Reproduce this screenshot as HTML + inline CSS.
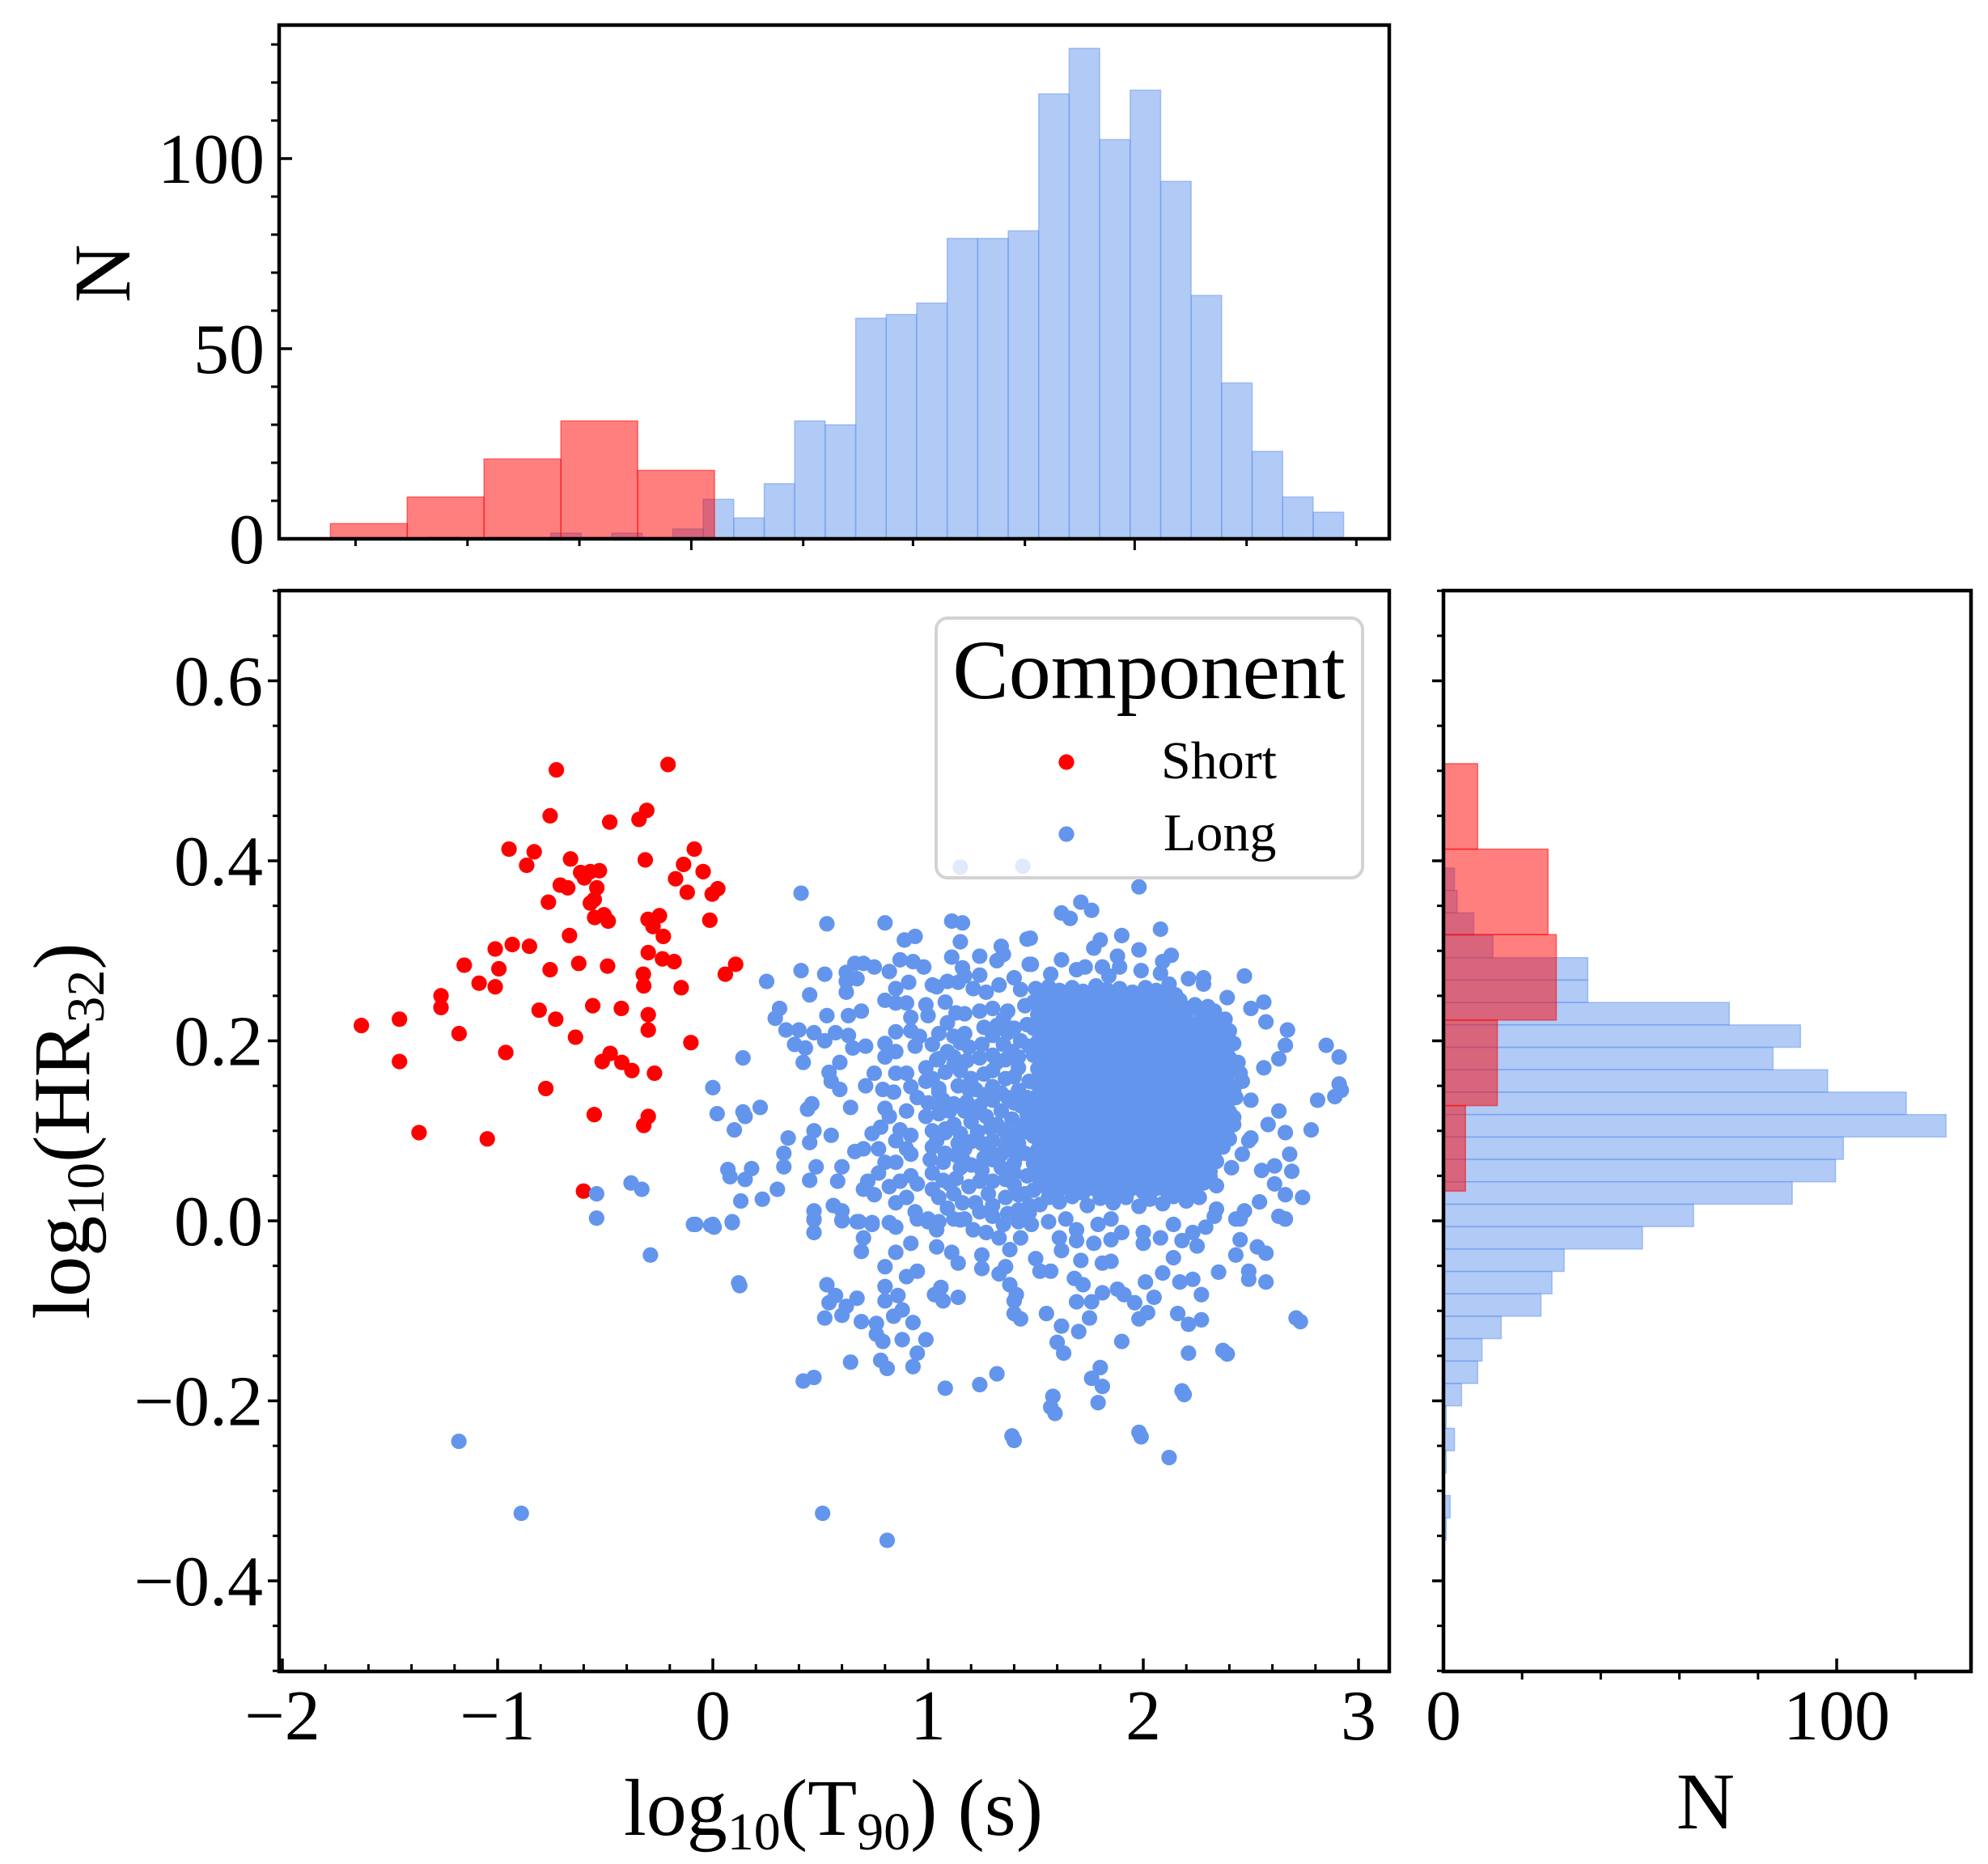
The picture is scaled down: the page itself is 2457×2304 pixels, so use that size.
<!DOCTYPE html>
<html><head><meta charset="utf-8"><style>
html,body{margin:0;padding:0;background:#fff;}
svg{display:block;}
text{font-family:"Liberation Serif",serif;fill:#000;}
</style></head><body>
<svg id="fig" xmlns="http://www.w3.org/2000/svg" width="2457" height="2304" viewBox="0 0 2457 2304"></svg>
<script>
// ---------- data ----------
const redPts = [[-0.727,0.501],[-0.208,0.507],[-0.756,0.450],[-0.479,0.443],[-0.307,0.456],[-0.343,0.446],[-0.947,0.413],[-0.830,0.410],[-0.865,0.395],[-0.661,0.402],[-0.314,0.401],[-0.086,0.413],[-0.136,0.396],[-0.045,0.388],[-0.173,0.380],[-0.119,0.365],[-0.003,0.363],[0.023,0.369],[-0.614,0.387],[-0.569,0.388],[-0.527,0.389],[-0.597,0.381],[-0.709,0.373],[-0.674,0.370],[-0.539,0.370],[-0.551,0.357],[-0.569,0.353],[-0.764,0.354],[-0.549,0.337],[-0.506,0.340],[-0.486,0.333],[-0.301,0.335],[-0.248,0.339],[-0.278,0.327],[-0.230,0.316],[-0.014,0.334],[-0.666,0.317],[-1.011,0.302],[-0.932,0.307],[-0.852,0.305],[-0.300,0.298],[-0.234,0.291],[-0.180,0.288],[0.106,0.285],[0.058,0.274],[-1.155,0.284],[-0.994,0.280],[-0.756,0.279],[-0.623,0.286],[-0.489,0.283],[-0.323,0.274],[-0.321,0.261],[-0.147,0.259],[-1.086,0.264],[-1.011,0.260],[-1.263,0.250],[-1.263,0.237],[-1.633,0.217],[-1.456,0.224],[-1.179,0.208],[-0.807,0.234],[-0.730,0.224],[-0.558,0.239],[-0.425,0.236],[-0.300,0.229],[-0.300,0.212],[-0.638,0.204],[-0.102,0.198],[-1.456,0.177],[-0.962,0.187],[-0.514,0.177],[-0.477,0.186],[-0.423,0.176],[-0.376,0.167],[-0.271,0.164],[-0.776,0.147],[-0.551,0.118],[-0.300,0.116],[-0.321,0.106],[-1.365,0.098],[-1.048,0.091],[-0.601,0.033]];

const bluePts = [[1.15,0.393],[1.44,0.394],
[-1.18,-0.245],[-0.89,-0.325],[-0.54,0.030],[-0.54,0.003],[-0.38,0.042],[-0.33,0.035],[-0.29,-0.038],[-0.09,-0.004],[0.0,-0.004],[0.12,-0.069],[0.51,-0.325],[0.81,-0.355],[1.98,-0.235],[2.12,-0.263],[1.39,-0.239],[2.71,-0.108],[2.37,-0.144],[2.18,-0.189],
[0.41,0.364],[0.53,0.330],[0.80,0.331],[1.11,0.333],[1.16,0.331],[0.89,0.312],[0.94,0.316],[1.15,0.310],[1.46,0.313],[1.24,0.294],[1.34,0.305],[1.35,0.296],[1.32,0.289],[1.11,0.293],[0.41,0.278],[0.52,0.274],[0.25,0.266],[0.66,0.286],[0.70,0.286],[0.62,0.276],[0.67,0.269],[0.62,0.266],[0.62,0.254],[0.75,0.282],[0.82,0.277],[0.87,0.290],[0.93,0.288],[0.98,0.282],[0.91,0.265],[0.85,0.258],[0.85,0.242],[0.80,0.245],[0.90,0.242],[0.99,0.240],[1.08,0.243],[1.16,0.281],[1.17,0.272],[1.14,0.265],[1.09,0.266],[1.04,0.260],[1.24,0.273],[1.27,0.254],[1.40,0.270],[1.47,0.285],[0.45,0.251],[0.53,0.228],[0.63,0.228],[0.69,0.233],[0.31,0.236],[0.29,0.225],[0.34,0.212],[0.40,0.212],[0.47,0.209],[0.52,0.200],[0.57,0.209],[0.63,0.206],[0.65,0.192],[0.38,0.196],[0.43,0.192],[0.42,0.176],[0.14,0.181],[0.59,0.176],[0.54,0.165],[0.55,0.155],[0.59,0.146],[0.00,0.148],[0.02,0.119],[0.14,0.121],[0.22,0.126],[0.15,0.116],[0.10,0.101],[0.46,0.130],[0.44,0.124],[0.64,0.126],[0.35,0.092],[0.33,0.075],[0.33,0.060],[0.47,0.100],[0.45,0.087],[0.55,0.095],[0.07,0.057],[0.08,0.049],[0.18,0.058],[0.15,0.046],[0.48,0.060],[0.45,0.045],[0.30,0.035],[0.23,0.024],[0.13,0.022],[0.09,-0.001],[-0.01,-0.005],[-0.08,-0.004],[0.47,0.011],[0.47,0.002],[0.56,0.017],[0.60,0.011],[0.60,0.001],[0.67,-0.001],[0.74,-0.002],[0.66,0.077],[0.70,0.080],[0.60,0.060],[0.58,0.044],
[0.71,0.194],[0.80,0.197],[0.85,0.210],[0.92,0.226],[0.92,0.211],[0.96,0.205],[0.94,0.194],[0.80,0.182],[0.85,0.188],[0.75,0.164],[0.71,0.150],[0.79,0.146],[0.85,0.164],[0.90,0.164],[0.84,0.143],[1.05,0.208],[1.09,0.220],[1.12,0.205],[1.17,0.208],[1.19,0.193],[1.25,0.196],[1.17,0.230],[1.24,0.233],[1.30,0.236],[1.37,0.233],[1.45,0.239],[1.30,0.206],[1.37,0.209],[1.46,0.218],[1.47,0.194],[1.39,0.188],[0.99,0.170],[1.04,0.179],[1.09,0.188],[1.12,0.173],[0.92,0.149],[0.99,0.155],[1.02,0.158],[1.05,0.143],[1.07,0.134],[1.00,0.131],[0.95,0.137],[1.20,0.158],[1.22,0.146],[1.19,0.146],[1.30,0.167],[1.32,0.176],[1.30,0.149],[1.36,0.158],[1.42,0.170],[1.47,0.155],[1.46,0.137],[1.37,0.137],[1.30,0.134],[0.80,0.125],[0.82,0.116],[0.90,0.122],[0.99,0.116],[1.05,0.119],[1.10,0.122],[1.17,0.122],[1.12,0.107],[1.20,0.110],[1.27,0.116],[1.32,0.107],[1.39,0.113],[1.46,0.119],[0.74,0.097],[0.78,0.104],[0.87,0.101],[0.92,0.095],[0.85,0.089],[0.90,0.080],[0.92,0.074],[0.77,0.080],[1.04,0.089],[1.08,0.098],[1.14,0.086],[1.17,0.080],[1.25,0.086],[1.30,0.089],[1.37,0.092],[1.42,0.086],[1.47,0.098],[0.80,0.065],[0.85,0.065],[0.77,0.053],[0.72,0.044],[0.70,0.035],[0.75,0.029],[0.82,0.038],[0.87,0.044],[0.92,0.050],[0.95,0.041],[0.90,0.026],[0.85,0.020],[1.01,0.068],[1.07,0.065],[1.02,0.053],[1.02,0.035],[1.10,0.041],[1.15,0.059],[1.20,0.062],[1.25,0.056],[1.30,0.068],[1.34,0.059],[1.40,0.053],[1.46,0.050],[1.19,0.038],[1.24,0.044],[1.16,0.020],[1.22,0.020],[1.30,0.017],[1.36,0.026],[1.42,0.029],[1.47,0.017],[0.82,-0.002],[0.94,0.010],[0.95,0.002],[1.00,0.002],[1.05,-0.001],[1.09,0.014],[1.12,0.002],[1.17,0.002],[1.30,0.005],[1.37,0.008],[1.44,0.005],
[1.26,0.215],[1.32,0.217],[1.40,0.214],[1.05,0.180],[1.12,0.182],[1.18,0.178],[1.24,0.181],[1.30,0.184],[1.36,0.179],[1.42,0.182],[1.12,0.130],[1.18,0.132],[1.24,0.128],[1.40,0.131],[1.02,0.100],[1.08,0.102],[1.23,0.099],[1.35,0.101],[1.41,0.098],[1.08,0.075],[1.13,0.073],[1.29,0.076],[1.34,0.074],[1.41,0.072],[1.07,0.045],[1.13,0.047],[1.30,0.044],[1.36,0.046],[1.24,0.010],[1.42,0.012],[1.47,0.009],
[1.02,0.262],[1.21,0.258],[1.33,0.262],[1.43,0.257],[1.00,0.228],[1.13,0.231],[1.35,0.224],[1.02,0.196],[1.15,0.198],[1.35,0.196],[1.43,0.200],[1.08,0.165],[1.15,0.167],[1.26,0.163],[1.40,0.160],[1.05,0.147],[1.14,0.150],[1.26,0.140],[1.34,0.142],[1.42,0.145],[1.05,0.128],[1.22,0.120],[1.34,0.122],[1.43,0.128],[1.15,0.097],[1.29,0.103],[1.45,0.108],[1.02,0.082],[1.20,0.088],[1.36,0.082],[1.45,0.075],[1.16,0.069],[1.26,0.070],[1.40,0.064],[1.05,0.026],[1.12,0.030],[1.28,0.030],[1.40,0.040],[1.45,0.030],
[1.98,0.371],[1.62,0.342],[1.66,0.336],[1.71,0.354],[1.76,0.345],[2.08,0.324],[1.475,0.314],[1.48,0.285],[1.80,0.312],[1.77,0.303],[1.90,0.317],[1.98,0.301],[1.62,0.290],[1.57,0.274],[1.69,0.279],[1.73,0.282],[1.88,0.294],[1.89,0.282],[1.81,0.282],[1.84,0.272],[1.99,0.278],[2.13,0.295],[2.09,0.288],[2.08,0.275],[2.12,0.263],[2.21,0.269],[2.28,0.270],[2.28,0.263],[2.47,0.272],[2.39,0.248],[2.33,0.233],[2.38,0.224],[2.27,0.230],[2.17,0.236],[2.56,0.243],[2.50,0.236],[2.57,0.221],[2.67,0.212],[2.66,0.195],[2.63,0.180],[2.56,0.170],[2.85,0.195],[2.91,0.182],[2.91,0.152],[2.92,0.145],[2.89,0.138],[2.81,0.134],[2.78,0.101],[2.66,0.098],[2.68,0.074],[2.69,0.055],[2.63,0.122],[2.58,0.107],[2.50,0.092],[2.50,0.134],[2.44,0.176],[2.45,0.164],[2.46,0.155],[2.55,0.056],[2.61,0.061],[2.61,0.041],[2.66,0.029],[2.74,0.026],[2.54,0.021],[2.47,0.011],[2.43,0.002],[2.63,0.005],[2.66,0.002],[2.34,0.039],[2.34,0.013],[2.24,0.038],[2.41,0.059],[2.46,0.074],[2.49,0.089],
[0.09,-0.002],[0.006,-0.007],[0.125,-0.072],[0.47,0.001],[0.47,-0.013],[0.60,0.0],[0.68,-0.001],[0.74,-0.004],[0.70,-0.019],[0.69,-0.034],[0.85,-0.007],[0.85,-0.035],[0.92,-0.025],[1.0,-0.001],[1.04,-0.010],[0.80,-0.051],[1.04,-0.029],[1.11,-0.035],[1.14,-0.047],[0.90,-0.062],[0.95,-0.056],[0.53,-0.071],[0.57,-0.083],[0.54,-0.091],[0.67,-0.086],[0.62,-0.095],[0.52,-0.108],[0.60,-0.105],[0.80,-0.073],[0.80,-0.089],[0.86,-0.083],[0.88,-0.099],[0.84,-0.106],[0.93,-0.113],[0.69,-0.112],[0.76,-0.114],[0.76,-0.126],[0.79,-0.134],[0.88,-0.132],[0.99,-0.132],[0.95,-0.147],[0.93,-0.162],[0.78,-0.155],[0.81,-0.164],[0.64,-0.157],[0.42,-0.178],[0.47,-0.174],[1.03,-0.082],[1.06,-0.074],[1.14,-0.085],[1.07,-0.089],[1.25,-0.038],[1.25,-0.053],[1.33,-0.059],[1.36,-0.051],[1.38,-0.071],[1.41,-0.082],[1.40,-0.089],[1.40,-0.103],[1.43,-0.109],[1.38,-0.032],[1.43,-0.019],[1.50,-0.042],[1.52,-0.056],[1.57,-0.056],[1.62,-0.033],[1.61,-0.019],[1.55,-0.103],[1.62,-0.117],[1.60,-0.135],[1.63,-0.147],[1.70,-0.123],[1.75,-0.108],[1.69,-0.090],[1.76,-0.090],[1.68,-0.064],[1.72,-0.071],[1.71,-0.044],[1.81,-0.047],[1.85,-0.045],[1.81,-0.080],[1.88,-0.076],[1.91,-0.082],[1.96,-0.091],[2.01,-0.068],[2.05,-0.085],[2.02,-0.102],[1.98,-0.109],[1.90,-0.134],[1.80,-0.163],[1.76,-0.175],[1.81,-0.184],[1.79,-0.202],[1.58,-0.195],[1.57,-0.207],[1.59,-0.214],[1.32,-0.170],[1.24,-0.182],[1.08,-0.186],[1.40,-0.244],[1.99,-0.240],[2.09,-0.058],[2.14,-0.041],[2.17,-0.068],[2.23,-0.065],[2.27,-0.082],[2.16,-0.103],[2.21,-0.115],[2.27,-0.110],[2.21,-0.147],[2.39,-0.148],[2.19,-0.193],[2.73,-0.112],[2.35,-0.057],[2.43,-0.038],[2.45,-0.021],[2.53,-0.029],[2.57,-0.036],[2.49,-0.056],[2.49,-0.065],[2.57,-0.068],[2.66,0.002],[2.45,0.002],
[1.15,0.001],[1.21,-0.010],[1.27,-0.013],[1.33,-0.019],[1.35,-0.004],[1.42,-0.001],[1.48,-0.004],[1.56,-0.001],[1.64,0.002],[1.69,-0.010],[1.69,-0.022],[1.77,-0.025],[1.79,-0.004],[1.85,0.002],[1.85,-0.021],[1.90,-0.013],[2.00,-0.013],[2.00,-0.025],[2.08,-0.019],[2.14,-0.004],[2.18,-0.022],[2.23,-0.013],[2.25,-0.028],[2.29,-0.007],[2.33,0.005],
[1.50,0.258],[1.56,0.260],[1.61,0.256],[1.67,0.259],[1.72,0.255],[1.78,0.261],[1.83,0.257],[1.89,0.258],[1.95,0.254],[2.01,0.259],[2.06,0.256],[2.12,0.252],
[1.49,0.243],[1.54,0.246],[1.60,0.242],[1.66,0.245],[1.71,0.241],[1.77,0.244],[1.82,0.247],[1.88,0.242],[1.94,0.245],[1.99,0.240],[2.05,0.244],[2.11,0.241],[2.17,0.245],[2.24,0.240],
[1.51,0.229],[1.57,0.226],[1.62,0.231],[1.68,0.228],[1.74,0.225],[1.79,0.230],[1.85,0.227],[1.91,0.232],[1.96,0.228],[2.02,0.226],[2.08,0.230],[2.14,0.227],[2.20,0.231],[2.27,0.226],[2.33,0.229],
[1.49,0.214],[1.55,0.217],[1.60,0.212],[1.66,0.215],[1.71,0.211],[1.77,0.216],[1.83,0.213],[1.88,0.210],[1.94,0.215],[2.00,0.212],[2.05,0.216],[2.11,0.213],[2.17,0.210],[2.22,0.215],[2.28,0.212],[2.35,0.216],[2.40,0.211],
[1.51,0.199],[1.57,0.196],[1.63,0.201],[1.68,0.198],[1.74,0.195],[1.80,0.200],[1.85,0.197],[1.91,0.202],[1.97,0.198],[2.02,0.195],[2.08,0.200],[2.14,0.197],[2.19,0.201],[2.25,0.196],[2.31,0.199],[2.37,0.202],[2.42,0.197],
[1.49,0.184],[1.55,0.187],[1.60,0.182],[1.66,0.185],[1.72,0.181],[1.77,0.186],[1.83,0.183],[1.89,0.180],[1.94,0.185],[2.00,0.182],[2.06,0.186],[2.11,0.183],[2.17,0.180],[2.23,0.185],[2.28,0.182],[2.34,0.186],[2.40,0.181],
[1.51,0.169],[1.57,0.166],[1.63,0.171],[1.68,0.168],[1.74,0.165],[1.80,0.170],[1.85,0.167],[1.91,0.172],[1.97,0.168],[2.02,0.165],[2.08,0.170],[2.14,0.167],[2.19,0.171],[2.25,0.166],[2.31,0.169],[2.37,0.172],[2.43,0.167],
[1.49,0.154],[1.55,0.157],[1.60,0.152],[1.66,0.155],[1.72,0.151],[1.77,0.156],[1.83,0.153],[1.89,0.150],[1.94,0.155],[2.00,0.152],[2.06,0.156],[2.11,0.153],[2.17,0.150],[2.23,0.155],[2.28,0.152],[2.34,0.156],[2.40,0.151],
[1.51,0.139],[1.57,0.136],[1.63,0.141],[1.68,0.138],[1.74,0.135],[1.80,0.140],[1.85,0.137],[1.91,0.142],[1.97,0.138],[2.02,0.135],[2.08,0.140],[2.14,0.137],[2.19,0.141],[2.25,0.136],[2.31,0.139],[2.37,0.142],[2.43,0.137],
[1.49,0.124],[1.55,0.127],[1.60,0.122],[1.66,0.125],[1.72,0.121],[1.77,0.126],[1.83,0.123],[1.89,0.120],[1.94,0.125],[2.00,0.122],[2.06,0.126],[2.11,0.123],[2.17,0.120],[2.23,0.125],[2.28,0.122],[2.34,0.126],[2.40,0.121],
[1.51,0.109],[1.57,0.106],[1.63,0.111],[1.68,0.108],[1.74,0.105],[1.80,0.110],[1.85,0.107],[1.91,0.112],[1.97,0.108],[2.02,0.105],[2.08,0.110],[2.14,0.107],[2.19,0.111],[2.25,0.106],[2.31,0.109],[2.37,0.112],[2.42,0.107],
[1.49,0.094],[1.55,0.097],[1.60,0.092],[1.66,0.095],[1.72,0.091],[1.77,0.096],[1.83,0.093],[1.89,0.090],[1.94,0.095],[2.00,0.092],[2.06,0.096],[2.11,0.093],[2.17,0.090],[2.23,0.095],[2.28,0.092],[2.34,0.096],[2.40,0.091],
[1.51,0.079],[1.57,0.076],[1.63,0.081],[1.68,0.078],[1.74,0.075],[1.80,0.080],[1.85,0.077],[1.91,0.082],[1.97,0.078],[2.02,0.075],[2.08,0.080],[2.14,0.077],[2.19,0.081],[2.25,0.076],[2.31,0.079],[2.37,0.082],
[1.49,0.064],[1.55,0.067],[1.60,0.062],[1.66,0.065],[1.72,0.061],[1.77,0.066],[1.83,0.063],[1.89,0.060],[1.94,0.065],[2.00,0.062],[2.06,0.066],[2.11,0.063],[2.17,0.060],[2.23,0.065],[2.28,0.062],[2.34,0.066],
[1.51,0.049],[1.57,0.046],[1.63,0.051],[1.68,0.048],[1.74,0.045],[1.80,0.050],[1.85,0.047],[1.91,0.052],[1.97,0.048],[2.02,0.045],[2.08,0.050],[2.14,0.047],[2.19,0.051],[2.25,0.046],[2.31,0.049],
[1.49,0.034],[1.55,0.037],[1.60,0.032],[1.66,0.035],[1.72,0.031],[1.77,0.036],[1.83,0.033],[1.89,0.030],[1.94,0.035],[2.00,0.032],[2.06,0.036],[2.11,0.033],[2.17,0.030],[2.23,0.035],
[1.52,0.018],[1.61,0.021],[1.74,0.017],[1.86,0.020],[1.98,0.016],[2.09,0.019],[2.20,0.022],
[1.53,0.251],[1.59,0.252],[1.64,0.250],[1.70,0.249],[1.75,0.252],[1.81,0.250],[1.86,0.249],[1.92,0.251],[1.98,0.249],[2.03,0.250],[2.09,0.248],[2.15,0.251],
[1.52,0.236],[1.57,0.235],[1.63,0.237],[1.69,0.236],[1.74,0.234],[1.80,0.237],[1.86,0.235],[1.91,0.236],[1.97,0.234],[2.03,0.237],[2.08,0.235],[2.14,0.236],[2.21,0.236],[2.30,0.238],
[1.54,0.221],[1.59,0.222],[1.65,0.220],[1.71,0.221],[1.76,0.219],[1.82,0.222],[1.88,0.220],[1.93,0.221],[1.99,0.219],[2.05,0.222],[2.10,0.220],[2.16,0.221],[2.22,0.219],[2.27,0.220],[2.32,0.221],
[1.52,0.206],[1.57,0.207],[1.63,0.205],[1.69,0.206],[1.74,0.204],[1.80,0.207],[1.86,0.205],[1.91,0.206],[1.97,0.204],[2.03,0.207],[2.08,0.205],[2.14,0.206],[2.20,0.204],[2.25,0.207],[2.31,0.205],[2.37,0.206],
[1.54,0.191],[1.60,0.192],[1.65,0.190],[1.71,0.191],[1.77,0.189],[1.82,0.192],[1.88,0.190],[1.94,0.191],[1.99,0.189],[2.05,0.192],[2.11,0.190],[2.16,0.191],[2.22,0.189],[2.28,0.192],[2.33,0.190],[2.39,0.191],
[1.52,0.176],[1.57,0.177],[1.63,0.175],[1.69,0.176],[1.74,0.174],[1.80,0.177],[1.86,0.175],[1.91,0.176],[1.97,0.174],[2.03,0.177],[2.08,0.175],[2.14,0.176],[2.20,0.174],[2.25,0.177],[2.31,0.175],[2.37,0.176],[2.42,0.175],
[1.54,0.161],[1.60,0.162],[1.65,0.160],[1.71,0.161],[1.77,0.159],[1.82,0.162],[1.88,0.160],[1.94,0.161],[1.99,0.159],[2.05,0.162],[2.11,0.160],[2.16,0.161],[2.22,0.159],[2.28,0.162],[2.33,0.160],[2.39,0.161],
[1.52,0.146],[1.57,0.147],[1.63,0.145],[1.69,0.146],[1.74,0.144],[1.80,0.147],[1.86,0.145],[1.91,0.146],[1.97,0.144],[2.03,0.147],[2.08,0.145],[2.14,0.146],[2.20,0.144],[2.25,0.147],[2.31,0.145],[2.37,0.146],[2.42,0.145],
[1.54,0.131],[1.60,0.132],[1.65,0.130],[1.71,0.131],[1.77,0.129],[1.82,0.132],[1.88,0.130],[1.94,0.131],[1.99,0.129],[2.05,0.132],[2.11,0.130],[2.16,0.131],[2.22,0.129],[2.28,0.132],[2.33,0.130],[2.39,0.131],
[1.52,0.116],[1.57,0.117],[1.63,0.115],[1.69,0.116],[1.74,0.114],[1.80,0.117],[1.86,0.115],[1.91,0.116],[1.97,0.114],[2.03,0.117],[2.08,0.115],[2.14,0.116],[2.20,0.114],[2.25,0.117],[2.31,0.115],[2.37,0.116],[2.42,0.115],
[1.54,0.101],[1.60,0.102],[1.65,0.100],[1.71,0.101],[1.77,0.099],[1.82,0.102],[1.88,0.100],[1.94,0.101],[1.99,0.099],[2.05,0.102],[2.11,0.100],[2.16,0.101],[2.22,0.099],[2.28,0.102],[2.33,0.100],[2.39,0.101],
[1.52,0.086],[1.57,0.087],[1.63,0.085],[1.69,0.086],[1.74,0.084],[1.80,0.087],[1.86,0.085],[1.91,0.086],[1.97,0.084],[2.03,0.087],[2.08,0.085],[2.14,0.086],[2.20,0.084],[2.25,0.087],[2.31,0.085],[2.37,0.086],
[1.54,0.071],[1.60,0.072],[1.65,0.070],[1.71,0.071],[1.77,0.069],[1.82,0.072],[1.88,0.070],[1.94,0.071],[1.99,0.069],[2.05,0.072],[2.11,0.070],[2.16,0.071],[2.22,0.069],[2.28,0.072],[2.33,0.070],
[1.52,0.056],[1.57,0.057],[1.63,0.055],[1.69,0.056],[1.74,0.054],[1.80,0.057],[1.86,0.055],[1.91,0.056],[1.97,0.054],[2.03,0.057],[2.08,0.055],[2.14,0.056],[2.20,0.054],[2.25,0.057],[2.31,0.055],
[1.54,0.041],[1.60,0.042],[1.65,0.040],[1.71,0.041],[1.77,0.039],[1.82,0.042],[1.88,0.040],[1.94,0.041],[1.99,0.039],[2.05,0.042],[2.11,0.040],[2.16,0.041],[2.22,0.039],[2.28,0.042],
[1.56,0.026],[1.67,0.027],[1.80,0.025],[1.92,0.026],[2.03,0.024],[2.14,0.027],[2.26,0.026]];

// top histogram (T90)
const topRedStart = -1.777, topRedWidth = 0.357;
const topRedCounts = [4, 11, 21, 31, 18];
const topBlueStart = -1.320, topBlueWidth = 0.1417;
const topBlueCounts = [0.4,0,0.4,0,1.5,0.4,1.5,0.4,2.6,10.4,5.5,14.5,31,30,58,59,62,79,79,81,117,129,105,118,94,64,41,23,11,7];
// right histogram (HR), bins listed bottom -> top
const rightRedStart = 0.033, rightRedWidth = 0.095;
const rightRedCounts = [5.6, 13.7, 28.7, 26.6, 8.7];
const rightBlueStart = -0.355, rightBlueWidth = 0.0249;
const rightBlueCounts = [0.7,1.7,0,0.7,2.8,0.7,4.6,8.7,9.8,14.7,24.8,27.6,30.7,50.6,63.6,88.7,99.7,101.7,127.8,117.7,97.7,83.8,90.8,72.7,36.7,36.7,12.6,7.7,3.5,2.8];

const xMajor = [-2,-1,0,1,2,3];
const xMajorLabels = ["\u22122","\u22121","0","1","2","3"];
const yMajor = [-0.4,-0.2,0,0.2,0.4,0.6];
const yMajorLabels = ["\u22120.4","\u22120.2","0.0","0.2","0.4","0.6"];
const topYMajor = [0,50,100];
const topYLabels = ["0","50","100"];
const topXTicks = [-1.66,-1.14,-0.62,-0.10,0.42,0.93,1.45,1.96,2.48,2.99];
const topXMajorTicks = [-0.10,1.96];
const rightXMajor = [0,100];
const rightXLabels = ["0","100"];
const rightXMinor = [20,40,60,80,120];

// ---------- axes ----------
const MAIN = {l:345, r:1717, t:730, b:2066};
const TOP = {l:345, r:1717, t:31, b:666};
const RIGHT = {l:1784, r:2436, t:730, b:2066};
const sx = v => 881 + 266*v;
const sy = v => 1509 - 1112.5*v;
const topY = n => 666 - 4.70*n;
const rightX = n => 1784 + 4.86*n;

const NS = "http://www.w3.org/2000/svg";
const svg = document.getElementById('fig');
function mk(tag, attrs, parent){
  const e = document.createElementNS(NS, tag);
  for (const k in attrs) e.setAttribute(k, attrs[k]);
  (parent||svg).appendChild(e);
  return e;
}
function group(name){
  const g = mk('g', {});
  
  
  return g;
}

const defs = mk('defs', {});
const cpMain = mk('clipPath', {id:'cpMain'}, defs);
mk('rect', {x:MAIN.l, y:MAIN.t, width:MAIN.r-MAIN.l, height:MAIN.b-MAIN.t}, cpMain);

// ---------- top histogram ----------
const gTop = group('top-histogram');
topBlueCounts.forEach((c,i)=>{
  if (c<=0) return;
  const x0 = sx(topBlueStart + i*topBlueWidth), x1 = sx(topBlueStart+(i+1)*topBlueWidth);
  const r = mk('rect', {x:x0, y:topY(c), width:x1-x0, height:topY(0)-topY(c), fill:'rgba(100,149,237,0.5)', stroke:'rgba(100,149,237,0.5)', 'stroke-width':1.5}, gTop);
  
  
});
topRedCounts.forEach((c,i)=>{
  const x0 = sx(topRedStart + i*topRedWidth), x1 = sx(topRedStart+(i+1)*topRedWidth);
  const r = mk('rect', {x:x0, y:topY(c), width:x1-x0, height:topY(0)-topY(c), fill:'rgba(255,0,0,0.5)', stroke:'rgba(255,0,0,0.5)', 'stroke-width':1.5}, gTop);
  
  
});
for (let n=0; n<=130; n+=10){
  if (topYMajor.includes(n)) continue;
  mk('line', {x1:TOP.l-10, x2:TOP.l, y1:topY(n), y2:topY(n), stroke:'#000', 'stroke-width':3}, gTop);
}
topYMajor.forEach((n,i)=>{
  mk('line', {x1:TOP.l, x2:TOP.l+16, y1:topY(n), y2:topY(n), stroke:'#000', 'stroke-width':3.5}, gTop);
  const t = mk('text', {x:TOP.l-18, y:topY(n)+30, 'font-size':88, 'text-anchor':'end'}, gTop);
  t.textContent = topYLabels[i];
  
  
});
topXTicks.forEach(v=>{
  const L = topXMajorTicks.includes(v) ? 14 : 9;
  mk('line', {x1:sx(v), x2:sx(v), y1:TOP.b, y2:TOP.b+L, stroke:'#000', 'stroke-width':3}, gTop);
});
const topFrame = mk('rect', {x:TOP.l, y:TOP.t, width:TOP.r-TOP.l, height:TOP.b-TOP.t, fill:'none', stroke:'#000', 'stroke-width':4.5}, gTop);


const topYT = mk('text', {x:0, y:0, 'font-size':100, 'text-anchor':'middle', transform:'translate(160,338) rotate(-90)'}, gTop);
topYT.textContent = 'N';



// ---------- main scatter ----------
const gMain = group('scatter-plot');
const gPts = mk('g', {'clip-path':'url(#cpMain)'}, gMain);
redPts.forEach(p=>{
  const c = mk('circle', {cx:sx(p[0]), cy:sy(p[1]), r:9.6, fill:'#ff0000'}, gPts);
  
  
});
bluePts.forEach(p=>{
  const c = mk('circle', {cx:sx(p[0]), cy:sy(p[1]), r:9.6, fill:'#6495ed'}, gPts);
  
  
});
for (let k=-10; k<=15; k++){
  const v = k*0.2;
  if (Math.abs(v - Math.round(v))<1e-6) continue;
  mk('line', {x1:sx(v), x2:sx(v), y1:MAIN.b, y2:MAIN.b-9, stroke:'#000', 'stroke-width':3}, gMain);
}
xMajor.forEach((v,i)=>{
  mk('line', {x1:sx(v), x2:sx(v), y1:MAIN.b, y2:MAIN.b-16, stroke:'#000', 'stroke-width':3.5}, gMain);
  const t = mk('text', {x:sx(v), y:2150, 'font-size':88, 'text-anchor':'middle'}, gMain);
  t.textContent = xMajorLabels[i];
  
  
});
for (let k=-10; k<=14; k++){
  const v = k*0.05;
  mk('line', {x1:MAIN.l-8, x2:MAIN.l, y1:sy(v), y2:sy(v), stroke:'#000', 'stroke-width':3}, gMain);
}
yMajor.forEach((v,i)=>{
  mk('line', {x1:MAIN.l-14, x2:MAIN.l, y1:sy(v), y2:sy(v), stroke:'#000', 'stroke-width':3.5}, gMain);
  const t = mk('text', {x:MAIN.l-20, y:sy(v)+30, 'font-size':88, 'text-anchor':'end'}, gMain);
  t.textContent = yMajorLabels[i];
  
  
});
const mainFrame = mk('rect', {x:MAIN.l, y:MAIN.t, width:MAIN.r-MAIN.l, height:MAIN.b-MAIN.t, fill:'none', stroke:'#000', 'stroke-width':4.5}, gMain);



const xT = mk('text', {x:1030, y:2268, 'font-size':100, 'text-anchor':'middle'}, gMain);
xT.innerHTML = 'log<tspan font-size="66" dy="18">10</tspan><tspan dy="-18">(T</tspan><tspan font-size="66" dy="18">90</tspan><tspan dy="-18">) (s)</tspan>';


const yT = mk('text', {x:0, y:0, 'font-size':100, 'text-anchor':'middle', transform:'translate(110,1398) rotate(-90)'}, gMain);
yT.innerHTML = 'log<tspan font-size="66" dy="18">10</tspan><tspan dy="-18">(HR</tspan><tspan font-size="66" dy="18">32</tspan><tspan dy="-18">)</tspan>';



// legend
const gLeg = group('legend');
mk('rect', {x:1157, y:764, width:527, height:321, rx:14, ry:14, fill:'rgba(255,255,255,0.8)', stroke:'#d3d3d3', 'stroke-width':4}, gLeg);
const lt = mk('text', {x:1420, y:863, 'font-size':104, 'text-anchor':'middle'}, gLeg);
lt.textContent = 'Component';


const ls = mk('circle', {cx:1318, cy:942, r:9.6, fill:'#ff0000'}, gLeg);


const lst = mk('text', {x:1435, y:962, 'font-size':66}, gLeg);
lst.textContent = 'Short';


const ll = mk('circle', {cx:1318, cy:1031, r:9.6, fill:'#6495ed'}, gLeg);


const llt = mk('text', {x:1438, y:1051, 'font-size':66}, gLeg);
llt.textContent = 'Long';



// ---------- right histogram ----------
const gRight = group('right-histogram');
rightBlueCounts.forEach((c,i)=>{
  if (c<=0) return;
  const y0 = sy(rightBlueStart + i*rightBlueWidth), y1 = sy(rightBlueStart+(i+1)*rightBlueWidth);
  const r = mk('rect', {x:rightX(0), y:y1, width:rightX(c)-rightX(0), height:y0-y1, fill:'rgba(100,149,237,0.5)', stroke:'rgba(100,149,237,0.5)', 'stroke-width':1.5}, gRight);
  
  
});
rightRedCounts.forEach((c,i)=>{
  const y0 = sy(rightRedStart + i*rightRedWidth), y1 = sy(rightRedStart+(i+1)*rightRedWidth);
  const r = mk('rect', {x:rightX(0), y:y1, width:rightX(c)-rightX(0), height:y0-y1, fill:'rgba(255,0,0,0.5)', stroke:'rgba(255,0,0,0.5)', 'stroke-width':1.5}, gRight);
  
  
});
for (let k=-10; k<=14; k++){
  const v = k*0.05;
  mk('line', {x1:RIGHT.l-8, x2:RIGHT.l, y1:sy(v), y2:sy(v), stroke:'#000', 'stroke-width':3}, gRight);
}
yMajor.forEach(v=>{
  mk('line', {x1:RIGHT.l-14, x2:RIGHT.l, y1:sy(v), y2:sy(v), stroke:'#000', 'stroke-width':3.5}, gRight);
});
rightXMinor.forEach(n=>{
  mk('line', {x1:rightX(n), x2:rightX(n), y1:RIGHT.b, y2:RIGHT.b+10, stroke:'#000', 'stroke-width':3}, gRight);
});
rightXMajor.forEach((n,i)=>{
  mk('line', {x1:rightX(n), x2:rightX(n), y1:RIGHT.b, y2:RIGHT.b-16, stroke:'#000', 'stroke-width':3.5}, gRight);
  const t = mk('text', {x:rightX(n), y:2150, 'font-size':88, 'text-anchor':'middle'}, gRight);
  t.textContent = rightXLabels[i];
  
  
});
const rFrame = mk('rect', {x:RIGHT.l, y:RIGHT.t, width:RIGHT.r-RIGHT.l, height:RIGHT.b-RIGHT.t, fill:'none', stroke:'#000', 'stroke-width':4.5}, gRight);


const rT = mk('text', {x:2108, y:2260, 'font-size':100, 'text-anchor':'middle'}, gRight);
rT.textContent = 'N';


</script>
</body></html>
